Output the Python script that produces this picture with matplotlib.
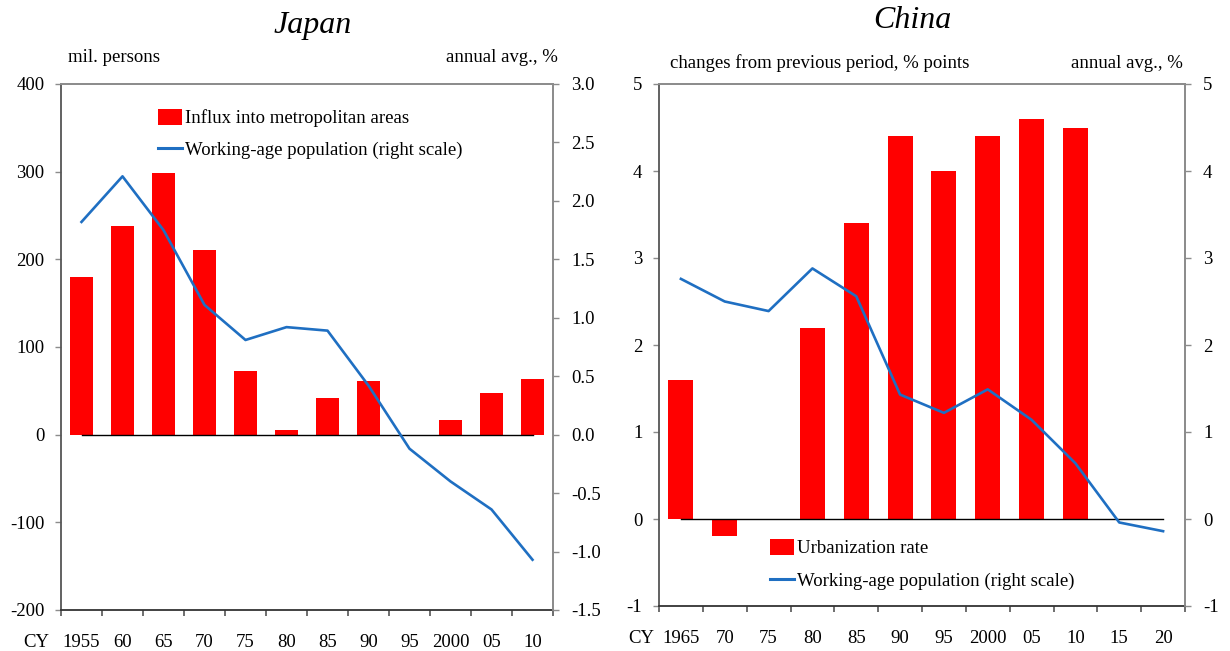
import matplotlib
matplotlib.use("Agg")
import matplotlib.pyplot as plt
import numpy as np
from matplotlib.patches import Patch
from matplotlib.lines import Line2D

plt.rcParams['font.family'] = ['Liberation Serif', 'DejaVu Serif']
plt.rcParams['axes.unicode_minus'] = False

# ---- Japan data ----
jp_labels = ["1955", "60", "65", "70", "75", "80", "85", "90", "95", "2000", "05", "10"]
jp_influx = [180, 238, 298, 211, 73, 5, 42, 61, np.nan, 17, 47, 63]
jp_working = [1.82, 2.21, 1.75, 1.11, 0.81, 0.92, 0.89, 0.42, -0.12, -0.40, -0.64, -1.07]

# ---- China data ----
cn_labels = ["1965", "70", "75", "80", "85", "90", "95", "2000", "05", "10", "15", "20"]
cn_urban = [1.6, -0.2, np.nan, 2.2, 3.4, 4.4, 4.0, 4.4, 4.6, 4.5, np.nan, np.nan]
cn_working = [2.76, 2.50, 2.39, 2.88, 2.56, 1.43, 1.22, 1.49, 1.14, 0.64, -0.04, -0.14]

RED = "#FF0000"
BLUE = "#1F6FC2"
GRAY = "#8C8C8C"
FS = 13.5
XPAD = 17  # points
W, H = 1230, 651

fig = plt.figure(figsize=(12.3, 6.51), dpi=100)


def fx(px):
    return px / W


def fy(py):
    return 1 - py / H


def style_axes(ax, ax2, n):
    ax.set_xlim(-0.5, n - 0.5)
    ax.set_xticks(np.arange(n))
    ax.set_xticks(np.arange(n + 1) - 0.5, minor=True)
    ax.tick_params(axis='x', which='major', length=0, pad=XPAD, labelsize=FS)
    ax.tick_params(axis='x', which='minor', length=4, direction='out', width=1.2, color='#555555')
    ax.tick_params(axis='y', which='major', length=4, direction='out', labelsize=FS, pad=8,
                   color=GRAY, width=1.0)
    ax2.tick_params(axis='y', which='major', length=4, direction='out', labelsize=FS, pad=9,
                    color=GRAY, width=1.0)
    ax.spines['left'].set_color('#555555')
    ax.spines['left'].set_linewidth(1.3)
    ax.spines['bottom'].set_color('#333333')
    ax.spines['bottom'].set_linewidth(1.3)
    for a in (ax, ax2):
        a.spines['top'].set_color(GRAY)
        a.spines['right'].set_color(GRAY)
        a.spines['top'].set_linewidth(1.3)
        a.spines['right'].set_linewidth(1.3)
    ax2.spines['left'].set_visible(False)
    ax2.spines['bottom'].set_visible(False)


def cy_label(spine_px, x_px):
    top = spine_px + XPAD * 100 / 72
    fig.text(fx(x_px), fy(top), "CY", ha='center', va='top', fontsize=FS)


# ---------------- Japan ----------------
ax1 = fig.add_axes([fx(61), fy(610), fx(553) - fx(61), fy(84) - fy(610)])
n = len(jp_labels)
x = np.arange(n)
ax1.bar(x, jp_influx, width=0.58, color=RED, zorder=2)
ax1.plot([0, n - 1], [0, 0], color='black', lw=1.0, zorder=3)
ax1.set_ylim(-200, 400)
ax1.set_yticks(np.arange(-200, 401, 100))
ax1.set_xticklabels(jp_labels)
ax1b = ax1.twinx()
ax1b.plot(x, jp_working, color=BLUE, lw=1.9, zorder=4)
ax1b.set_ylim(-1.5, 3.0)
ticks_r = np.arange(-1.5, 3.01, 0.5)
ax1b.set_yticks(ticks_r)
ax1b.set_yticklabels([f"{v:.1f}" for v in ticks_r])
style_axes(ax1, ax1b, n)
fig.text(fx(313), fy(25), "Japan", ha='center', va='center', fontsize=23, style='italic')
fig.text(fx(68), fy(58), "mil. persons", ha='left', va='center', fontsize=FS)
fig.text(fx(558), fy(58), "annual avg., %", ha='right', va='center', fontsize=FS)
cy_label(610, 36)
h_bar = Patch(facecolor=RED, edgecolor='none')
h_line = Line2D([], [], color=BLUE, lw=2.2)
fig.legend([h_bar, h_line], ["Influx into metropolitan areas", "Working-age population (right scale)"],
           loc='upper left', bbox_to_anchor=(fx(158), fy(109)), bbox_transform=fig.transFigure,
           frameon=False, fontsize=FS, borderpad=0, borderaxespad=0,
           handlelength=1.3, handleheight=0.9, handletextpad=0.15, labelspacing=0.72)

# ---------------- China ----------------
ax2 = fig.add_axes([fx(659), fy(606), fx(1185) - fx(659), fy(84) - fy(606)])
n = len(cn_labels)
x = np.arange(n)
ax2.bar(x, cn_urban, width=0.57, color=RED, zorder=2)
ax2.plot([0, n - 1], [0, 0], color='black', lw=1.0, zorder=3)
ax2.set_ylim(-1, 5)
ax2.set_yticks(np.arange(-1, 6, 1))
ax2.set_xticklabels(cn_labels)
ax2b = ax2.twinx()
ax2b.plot(x, cn_working, color=BLUE, lw=1.9, zorder=4)
ax2b.set_ylim(-1, 5)
ax2b.set_yticks(np.arange(-1, 6, 1))
style_axes(ax2, ax2b, n)
fig.text(fx(912), fy(20), "China", ha='center', va='center', fontsize=23, style='italic')
fig.text(fx(670), fy(63), "changes from previous period, % points", ha='left', va='center', fontsize=FS)
fig.text(fx(1183), fy(63), "annual avg., %", ha='right', va='center', fontsize=FS)
cy_label(606, 641)
fig.legend([h_bar, h_line], ["Urbanization rate", "Working-age population (right scale)"],
           loc='upper left', bbox_to_anchor=(fx(770), fy(539)), bbox_transform=fig.transFigure,
           frameon=False, fontsize=FS, borderpad=0, borderaxespad=0,
           handlelength=1.3, handleheight=0.9, handletextpad=0.15, labelspacing=0.78)

fig.savefig("out.png", dpi=100)
